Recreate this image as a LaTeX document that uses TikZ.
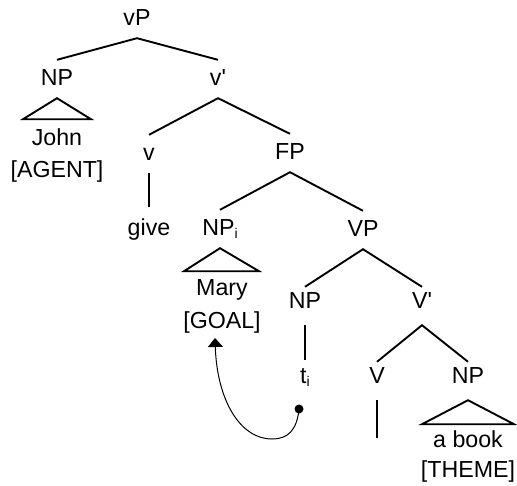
\documentclass[tikz,border=0pt]{standalone}
\usepackage{fontspec}
\setmainfont{Liberation Sans}
\usetikzlibrary{arrows.meta}
\newcommand{\isub}[1]{\raisebox{-3pt}{\fontsize{14}{14}\selectfont #1}}
\begin{document}
\begin{tikzpicture}[x=1pt,y=-1pt,
  lab/.style={anchor=base, font=\fontsize{23.2}{27}\selectfont, text height=16pt, text depth=4pt, inner xsep=0pt, inner ysep=9pt},
  lablow/.style={lab, text depth=12pt, inner ysep=5pt},
  word/.style={anchor=base, font=\fontsize{23.2}{27}\selectfont, inner sep=0pt},
  branch/.style={line width=1.9pt},
  tri/.style={line width=1.9pt, line join=miter},
  move/.style={line width=1pt, -{Triangle[width=15pt,length=9pt]}},
  dot/.style={circle, fill=black, inner sep=0pt, minimum size=9pt},
]
\useasboundingbox (0,0) rectangle (517,485);

% labels
\node[lab] (vP) at (137,25) {vP};
\node[lab] (NPa) at (57,85) {NP};
\node[lab] (vbar) at (218,85) {v\textquotesingle};
\node[lab] (v) at (149,160) {v};
\node[lab] (FP) at (290,159) {FP};
\node[lab] (give) at (149,235) {give};
\node[lab] (NPi) at (220,235) {NP\isub{i}};
\node[lab] (VP) at (363,236) {VP};
\node[lablow] (NPt) at (305,308) {NP};
\node[lablow] (Vbar) at (422,308) {V\textquotesingle};
\node[lablow] (ti) at (305,383) {t\isub{i}};
\node[lablow] (V) at (377,383) {V};
\node[lablow] (NPb) at (468,383) {NP};

% words under triangles
\node[word] (john) at (57,145) {John};
\node[word] (agent) at (57,177) {[AGENT]};
\node[word] (mary) at (222,295) {Mary};
\node[word] (goal) at (222,328) {[GOAL]};
\node[word] (book) at (468,447) {a book};
\node[word] (theme) at (468,477) {[THEME]};

% branches
\draw[branch] (NPa.north) -- (vP.south) -- (vbar.north);
\draw[branch] (v.north) -- (vbar.south) -- (FP.north);
\draw[branch, shorten >=3pt] (v.south) -- (give.north);
\draw[branch] (NPi.north) -- (FP.south) -- (VP.north);
\draw[branch] (NPt.north) -- (VP.south) -- (Vbar.north);
\draw[branch, shorten >=2pt] (NPt.south) -- (ti.north);
\draw[branch] (V.north) -- (Vbar.south) -- (NPb.north);
\coordinate (Vend) at (377,438);
\draw[branch] (V.south) -- (Vend);

% triangles
\draw[tri] (NPa.south) -- ++(-34,21) -- ++(68,0) -- cycle;
\draw[tri] (NPi.south) -- ++(-36,23) -- ++(75,0) -- cycle;
\draw[tri] (NPb.south) -- ++(-46,24) -- ++(92,0) -- cycle;

% movement arrow
\node[dot] (tdot) at (299,409) {};
\coordinate (goaltip) at (215,338);
\draw[move] (tdot.center) .. controls (297,430) and (288,439) .. (272,439)
  .. controls (240,439) and (217,400) .. (goaltip);
\end{tikzpicture}
\end{document}
